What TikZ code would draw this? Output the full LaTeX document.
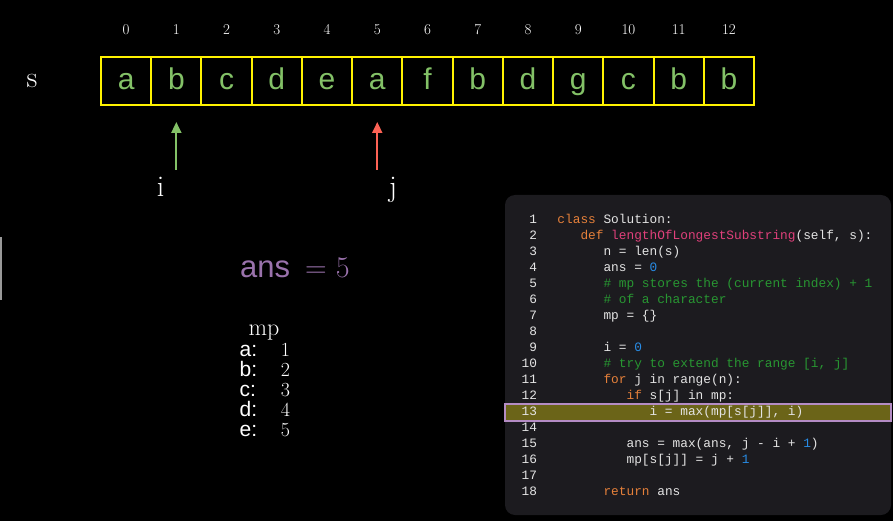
\documentclass[tikz,border=0pt]{standalone}
\usepackage{fontspec}
\setsansfont{Liberation Sans}
\newfontfamily\codefont{Liberation Mono}
\usepackage{tikz}
\usetikzlibrary{arrows,arrows.meta,matrix,positioning,fit}
\definecolor{cellgreen}{RGB}{131,193,103}
\definecolor{ptrred}{RGB}{252,98,85}
\definecolor{anspurple}{RGB}{154,114,172}
\definecolor{codebg}{RGB}{28,27,31}
\definecolor{hlfill}{RGB}{107,100,24}
\definecolor{hlline}{RGB}{180,140,196}
\definecolor{kw}{RGB}{229,128,58}
\definecolor{fn}{RGB}{224,64,123}
\definecolor{num}{RGB}{40,140,230}
\definecolor{cm}{RGB}{40,150,50}
\definecolor{txt}{RGB}{228,228,228}
\newcommand\tb{\hspace*{1.8em}}

\begin{document}
\frenchspacing
\begin{tikzpicture}[x=1pt,y=-1pt,
	cell/.style={draw=yellow,line width=2pt,minimum width=50.23pt,minimum height=48pt,inner sep=0pt,outer sep=0pt,
		text height=18pt,text depth=0pt,text=cellgreen,font=\sffamily\fontsize{30}{30}\selectfont},
	idx/.style={anchor=base,text=white,font=\fontsize{15}{15}\selectfont},
	ptr/.style={line width=2pt,-{Triangle[length=11pt,width=10pt]},shorten >=17pt},
	big/.style={anchor=base,inner sep=0pt,text=white,font=\fontsize{30}{30}\selectfont},
	mpkey/.style={anchor=base west,inner sep=0pt,text=white,font=\sffamily\fontsize{21}{21}\selectfont},
	mpval/.style={anchor=base,inner sep=0pt,text=white,font=\fontsize{20}{20}\selectfont},
	codebox/.style={fill=codebg,rounded corners=10pt,minimum width=386pt,minimum height=320pt,inner sep=0pt},
	hlbar/.style={fill=hlfill,draw=hlline,line width=2pt,minimum width=386pt,minimum height=17pt,inner sep=0pt}]

	\fill[black] (0,0) rectangle (893,521);
	\fill[gray!80] (0,237) rectangle (2,300);

	\matrix [matrix of nodes,nodes={cell},column sep=-2pt,inner sep=0pt,outer sep=0pt,anchor=west] (s) at (100,81)
	{
		a & b & c & d & e & a & f & b & d & g & c & b & b \\
	};
	\foreach \k in {0,...,12} {
		\pgfmathtruncatemacro\c{\k+1}
		\node[idx] (n\k) at ([yshift=22pt]s-1-\c.north) {\k};
	}
	\node[big] (slab) at (32,87.5) {s};

	\path (s-1-2.south) ++(0,65) coordinate (itail);
	\path (s-1-6.south) ++(0,65) coordinate (jtail);
	\draw[ptr,cellgreen] (itail) -- (s-1-2);
	\draw[ptr,ptrred] (jtail) -- (s-1-6);
	\node[big] (ilab) at (160.7,197) {i};
	\node[big] (jlab) at (393,197) {j};

	\node[anchor=base west,inner sep=0pt,text=anspurple] (ans) at (240,277.3)
		{{\sffamily\fontsize{31}{31}\selectfont ans}\fontsize{30}{30}\selectfont\hspace*{15pt}=\hspace*{9pt}5};

	\node[anchor=base,inner sep=0pt,text=white,font=\fontsize{24}{24}\selectfont] (mp) at (264,335) {mp};
	\foreach \key/\val [count=\r from 0] in {a/1,b/2,c/3,d/4,e/5} {
		\node[mpkey] (k\key) at (239.5,{356.7+20*\r}) {\key:};
		\node[mpval] (v\key) at (285.5,{356.7+20*\r}) {\val};
	}

	\node[codebox] (box) at (698,355) {};
	\node[hlbar] (hl) at (698,412) {};
	\matrix [matrix of nodes,anchor=north west,inner sep=0pt,outer sep=0pt,column sep=20.5pt,
		nodes={inner sep=0pt,text height=12.25pt,text depth=3.75pt,text=txt,font=\codefont\fontsize{12.8}{12.8}\selectfont},
		column 1/.style={anchor=base east},column 2/.style={anchor=base west}] (code) at (521.6,211.5)
	{
		1 & \textcolor{kw}{class} Solution: \\
		2 & \tb\textcolor{kw}{def} \textcolor{fn}{lengthOfLongestSubstring}(self, s): \\
		3 & \tb\tb n = len(s) \\
		4 & \tb\tb ans = \textcolor{num}{0} \\
		5 & \tb\tb\textcolor{cm}{\# mp stores the (current index) + 1} \\
		6 & \tb\tb\textcolor{cm}{\# of a character} \\
		7 & \tb\tb mp = \{\} \\
		8 & \\
		9 & \tb\tb i = \textcolor{num}{0} \\
		10 & \tb\tb\textcolor{cm}{\# try to extend the range [i, j]} \\
		11 & \tb\tb\textcolor{kw}{for} j in range(n): \\
		12 & \tb\tb\tb\textcolor{kw}{if} s[j] in mp: \\
		13 & \tb\tb\tb\tb i = max(mp[s[j]], i) \\
		14 & \\
		15 & \tb\tb\tb ans = max(ans, j - i + \textcolor{num}{1}) \\
		16 & \tb\tb\tb mp[s[j]] = j + \textcolor{num}{1} \\
		17 & \\
		18 & \tb\tb\textcolor{kw}{return} ans \\
	};

\end{tikzpicture}
\end{document}
